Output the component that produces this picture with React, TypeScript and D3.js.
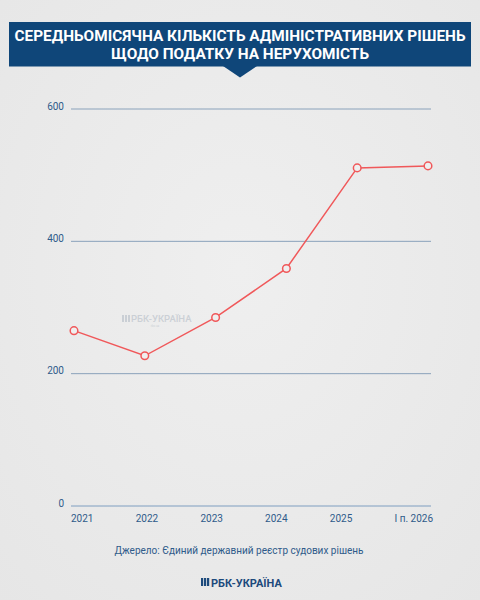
import React from "react";
import * as d3 from "d3";

const categories = ["2021", "2022", "2023", "2024", "2025", "І п. 2026"];
const values = [265, 227, 285, 359, 511, 514];
const yTicks = [0, 200, 400, 600];
const titleLines = [
  "СЕРЕДНЬОМІСЯЧНА КІЛЬКІСТЬ АДМІНІСТРАТИВНИХ РІШЕНЬ",
  "ЩОДО ПОДАТКУ НА НЕРУХОМІСТЬ",
];
const sourceText = "Джерело: Єдиний державний реєстр судових рішень";
const brandText = "РБК-УКРАЇНА";

export default function App() {
  const W = 480;
  const H = 600;
  const y = d3.scaleLinear().domain([0, 600]).range([506, 109]);
  const xPts = d3.scalePoint<string>().domain(categories).range([74, 428]);
  const xLab = d3.scalePoint<string>().domain(categories).range([71, 394.5]);
  const line = d3
    .line<number>()
    .x((_, i) => xPts(categories[i]) as number)
    .y((d) => y(d));
  const blue = "#0f4679";
  const tickColor = "#2f5b8a";
  const red = "#f0585a";
  const font = "Roboto, 'Noto Sans', sans-serif";

  return (
    <svg
      width={W}
      height={H}
      style={{ position: "absolute", left: 0, top: 0 }}
      fontFamily={font}
    >
      <defs>
        <radialGradient id="bg" cx="50%" cy="45%" r="75%">
          <stop offset="0%" stopColor="#efefef" />
          <stop offset="100%" stopColor="#e6e6e6" />
        </radialGradient>
      </defs>
      <rect width={W} height={H} fill="url(#bg)" />
      {/* title banner */}
      <rect x={9} y={22} width={462} height={44.5} fill={blue} />
      <path d="M223,66 L257,66 L240,77.5 Z" fill={blue} />
      {titleLines.map((t, i) => (
        <text
          key={i}
          x={240}
          y={41 + i * 18}
          textAnchor="middle"
          fill="#ffffff"
          fontWeight={700}
          fontSize={14}
          textLength={i === 0 ? 451 : 258}
          lengthAdjust="spacingAndGlyphs"
        >
          {t}
        </text>
      ))}
      {/* watermark */}
      <g opacity={0.35} fill="#8d9aab">
        <rect x={122} y={315} width={2} height={7} />
        <rect x={125} y={315} width={2} height={7} />
        <rect x={128} y={315} width={2} height={7} />
        <text x={131} y={322} fontSize={9.5} fontWeight={500}>
          {brandText}
        </text>
        <text x={155} y={327} fontSize={3} textAnchor="middle">
          rbc.ua
        </text>
      </g>
      {/* gridlines */}
      {yTicks.map((t) => (
        <g key={t}>
          <line
            x1={71}
            x2={431}
            y1={y(t)}
            y2={y(t)}
            stroke={t === 0 ? "#7f9ec0" : "#8aa2bb"}
            strokeWidth={1}
          />
          <text
            x={64}
            y={y(t) + 0.5}
            textAnchor="end"
            fontSize={10}
            fill={tickColor}
          >
            {t}
          </text>
        </g>
      ))}
      {/* x labels */}
      {categories.map((c) => (
        <text
          key={c}
          x={xLab(c)}
          y={522}
          fontSize={10}
          fill={tickColor}
        >
          {c}
        </text>
      ))}
      {/* line */}
      <path d={line(values) || ""} fill="none" stroke={red} strokeWidth={1.5} />
      {values.map((v, i) => (
        <circle
          key={i}
          cx={xPts(categories[i])}
          cy={y(v)}
          r={3.8}
          fill="#efefef"
          stroke={red}
          strokeWidth={1.5}
        />
      ))}
      {/* source */}
      <text x={239} y={554} textAnchor="middle" fontSize={10} fill={tickColor}>
        {sourceText}
      </text>
      {/* brand */}
      <g fill="#1d4a7c">
        <rect x={201} y={578} width={2.2} height={8} />
        <rect x={204} y={578} width={2.2} height={8} />
        <rect x={207} y={578} width={2.2} height={8} />
        <text x={211} y={586.5} fontSize={11} fontWeight={700}>
          {brandText}
        </text>
      </g>
    </svg>
  );
}
